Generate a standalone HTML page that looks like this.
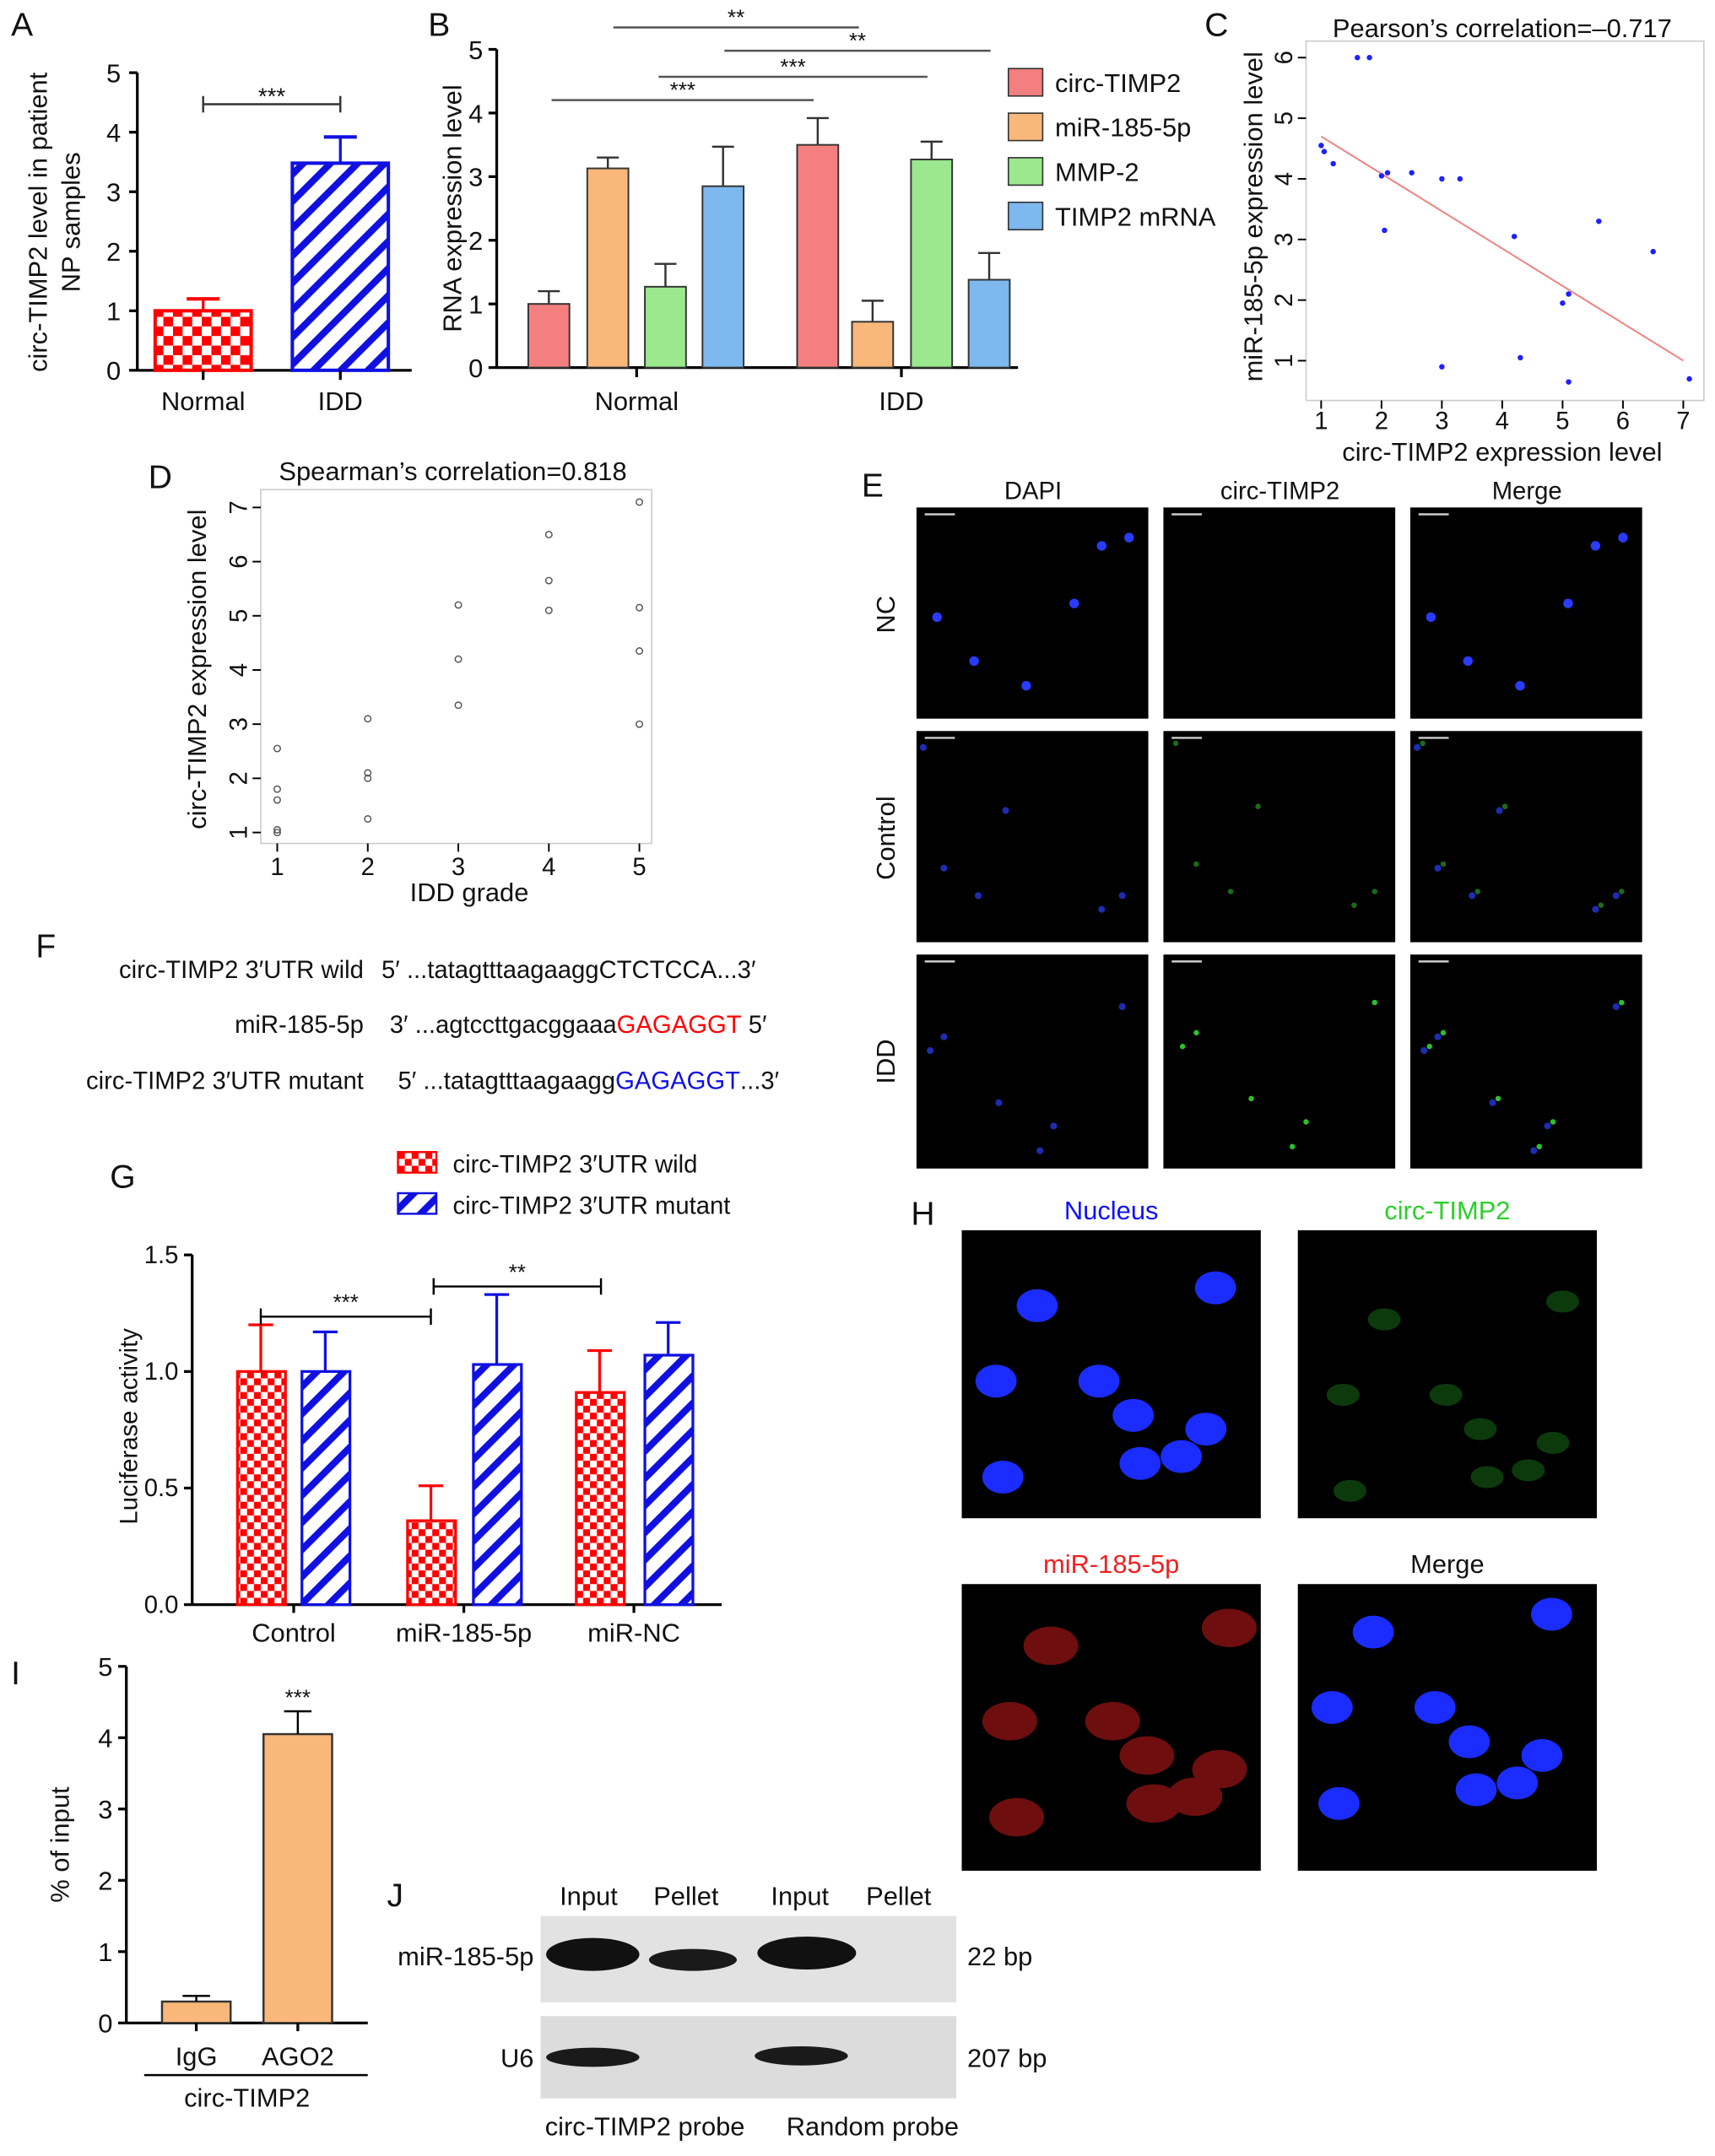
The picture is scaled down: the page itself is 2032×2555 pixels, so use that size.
<!DOCTYPE html>
<html><head><meta charset="utf-8">
<style>
html,body{margin:0;padding:0;background:#fff;}
svg{display:block;font-family:"Liberation Sans",Arial,sans-serif;}
</style></head>
<body>
<svg id="fig" width="2032" height="2555" viewBox="0 0 1250 1572" xmlns="http://www.w3.org/2000/svg">
<defs>
<pattern id="chk" width="14" height="14" patternUnits="userSpaceOnUse">
<rect width="14" height="14" fill="#fff"/><rect width="7" height="7" fill="#f00"/><rect x="7" y="7" width="7" height="7" fill="#f00"/>
</pattern>
<pattern id="chk2" width="10" height="10" patternUnits="userSpaceOnUse">
<rect width="10" height="10" fill="#fff"/><rect width="5" height="5" fill="#f00"/><rect x="5" y="5" width="5" height="5" fill="#f00"/>
</pattern>
<pattern id="str" width="14" height="14" patternUnits="userSpaceOnUse" patternTransform="rotate(45)">
<rect width="14" height="14" fill="#fff"/><rect width="5" height="14" fill="#1010e0"/>
</pattern>
</defs>
<g id="root"></g>
</svg>
<script>
// ---- data ----
const aCats=["Normal","IDD"];
const aVals=[1.0,3.48];
const aErr=[1.2,3.92];
const aTicks=[0,1,2,3,4,5];

const bGroups=["Normal","IDD"];
const bSeries=["circ-TIMP2","miR-185-5p","MMP-2","TIMP2 mRNA"];
const bNormal=[1.0,3.13,1.27,2.85];
const bNormalErr=[1.2,3.3,1.63,3.47];
const bIDD=[3.5,0.72,3.27,1.38];
const bIDDErr=[3.92,1.05,3.55,1.8];
const bTicks=[0,1,2,3,4,5];

const cX=[1.0,1.05,1.2,1.6,1.8,2.0,2.1,2.05,2.5,3.0,3.3,3.0,4.2,4.3,5.0,5.1,5.1,5.6,6.5,7.1];
const cY=[4.55,4.45,4.25,6.0,6.0,4.05,4.1,3.15,4.1,4.0,4.0,0.9,3.05,1.05,1.95,2.1,0.65,3.3,2.8,0.7];
const cFit=[[1,4.7],[7,1.0]];
const cXTicks=[1,2,3,4,5,6,7];
const cYTicks=[1,2,3,4,5,6];

const dX=[1,1,1,1,1,2,2,2,2,3,3,3,4,4,4,5,5,5,5];
const dY=[2.55,1.8,1.6,1.05,1.0,3.1,2.1,2.0,1.25,5.2,4.2,3.35,6.5,5.65,5.1,7.1,5.15,4.35,3.0];
const dXTicks=[1,2,3,4,5];
const dYTicks=[1,2,3,4,5,6,7];

const gCats=["Control","miR-185-5p","miR-NC"];
const gWild=[1.0,0.36,0.91];
const gWildErr=[1.2,0.51,1.09];
const gMut=[1.0,1.03,1.07];
const gMutErr=[1.17,1.33,1.21];
const gTicks=["0.0","0.5","1.0","1.5"];

const iCats=["IgG","AGO2"];
const iVals=[0.3,4.05];
const iErr=[0.38,4.37];
const iTicks=[0,1,2,3,4,5];

// ---- helpers ----
const NS="http://www.w3.org/2000/svg";
const root=document.getElementById('root');
function mk(tag,attrs,parent,txt){const e=document.createElementNS(NS,tag);for(const k in attrs)e.setAttribute(k,attrs[k]);if(txt!==undefined)e.textContent=txt;(parent||root).appendChild(e);return e;}
function grp(name){const g=mk('g',{});


return g;}
function line(p,x1,y1,x2,y2,w,c){return mk('line',{x1,y1,x2,y2,stroke:c||'#000','stroke-width':w||1.5},p);}
function text(p,x,y,s,sz,anchor,fill,extra){const t=mk('text',Object.assign({x,y,'font-size':sz||18,'text-anchor':anchor||'middle',fill:fill||'#111'},extra||{}),p,s);return t;}

// panel letters
[["A",8,26],["B",312,26],["C",878,26],["D",108,356],["E",628,362],["F",26,698],["G",80,866],["H",664,893],["I",8,1228],["J",282,1390]].forEach(l=>{
const t=text(root,l[1],l[2],l[0],24,'start','#111');


});

// ---- Panel A ----
(function(){
const g=grp('panel-a-chart');
const y0=270,ppu=43.4;const ys=v=>y0-v*ppu;
line(g,100,ys(5),100,y0,2);line(g,100,y0,300,y0,2);
aTicks.forEach(t=>{line(g,94,ys(t),100,ys(t),2);text(g,88,ys(t)+7,String(t),19,'end');});
const xs=[148,248];const fills=['url(#chk)','url(#str)'];const strokes=['#f00','#1010e0'];
aCats.forEach((c,i)=>{
 const r=mk('rect',{x:xs[i]-35,y:ys(aVals[i]),width:70,height:aVals[i]*ppu,fill:fills[i],stroke:strokes[i],'stroke-width':2.5},g);
 
 
 line(g,xs[i],ys(aVals[i]),xs[i],ys(aErr[i]),2,strokes[i]);line(g,xs[i]-12,ys(aErr[i]),xs[i]+12,ys(aErr[i]),2.5,strokes[i]);
 line(g,xs[i],y0,xs[i],y0+7,2);text(g,xs[i],y0+29,c,19);
});
line(g,148,76,248,76,1.5,'#333');line(g,148,70,148,82,1.5,'#333');line(g,248,70,248,82,1.5,'#333');
text(g,198,76,'***',17);
text(g,0,0,'circ-TIMP2 level in patient',19,'middle','#111',{transform:'translate(34,162) rotate(-90)'});
text(g,0,0,'NP samples',19,'middle','#111',{transform:'translate(58,162) rotate(-90)'});
})();

// ---- Panel B ----
(function(){
const g=grp('panel-b-chart');
const y0=268,ppu=46.4;const ys=v=>y0-v*ppu;
line(g,362,ys(5),362,y0,2);line(g,362,y0,742,y0,2);
bTicks.forEach(t=>{line(g,356,ys(t),362,ys(t),2);text(g,352,ys(t)+7,String(t),19,'end');});
const colors=['#f47f7f','#f9b77a','#9be88f','#7db8ee'];
const starts=[[385,428,470,512],[581,621,664,706]];
const vals=[bNormal,bIDD],errs=[bNormalErr,bIDDErr];
bGroups.forEach((gname,gi)=>{
 bSeries.forEach((s,si)=>{
  const x=starts[gi][si],v=vals[gi][si],e=errs[gi][si];
  const r=mk('rect',{x,y:ys(v),width:30,height:v*ppu,fill:colors[si],stroke:'#333','stroke-width':1.2},g);
  
  
  line(g,x+15,ys(v),x+15,ys(e),1.5,'#333');line(g,x+7,ys(e),x+23,ys(e),1.5,'#333');
 });
});
line(g,464,y0,464,y0+7,2);line(g,657,y0,657,y0+7,2);
text(g,464,y0+31,'Normal',19);text(g,657,y0+31,'IDD',19);
[[447,626,20,'**'],[528,722,37,'**'],[480,676,56,'***'],[402,593,73,'***']].forEach(s=>{line(g,s[0],s[2],s[1],s[2],1.5,'#555');text(g,(s[0]+s[1])/2,s[2]-2,s[3],16);});
text(g,0,0,'RNA expression level',19,'middle','#111',{transform:'translate(336,152) rotate(-90)'});
bSeries.forEach((s,i)=>{
 const le=grp('legend-entry-'+i);root.removeChild(le);g.appendChild(le);
 mk('rect',{x:735,y:50+i*32.5,width:25,height:20,fill:colors[i],stroke:'#333','stroke-width':1},le);
 text(le,769,67+i*32.5,s,19,'start');
});
})();

// ---- Panel C ----
(function(){
const g=grp('panel-c-scatter');
const xs=v=>963+(v-1)*44,ys=v=>263-(v-1)*44.2;
mk('rect',{x:952,y:30,width:290,height:262,fill:'none',stroke:'#ccc','stroke-width':1},g);
cXTicks.forEach(t=>{line(g,xs(t),292,xs(t),298,1.2);text(g,xs(t),313,String(t),18);});
cYTicks.forEach(t=>{line(g,946,ys(t),952,ys(t),1.2);text(g,0,0,String(t),18,'middle','#111',{transform:`translate(942,${ys(t)}) rotate(-90)`});});
line(g,xs(cFit[0][0]),ys(cFit[0][1]),xs(cFit[1][0]),ys(cFit[1][1]),1.2,'#f08080');
cX.forEach((x,i)=>{const c=mk('circle',{cx:xs(x),cy:ys(cY[i]),r:2,fill:'#2020ff'},g);

});
text(g,1095,27,'Pearson\u2019s correlation=\u20130.717',19);
text(g,1095,336,'circ-TIMP2 expression level',19);
text(g,0,0,'miR-185-5p expression level',19,'middle','#111',{transform:'translate(920,158) rotate(-90)'});
})();

// ---- Panel D ----
(function(){
const g=grp('panel-d-scatter');
const xs=v=>202+(v-1)*66,ys=v=>607-(v-1)*39.5;
mk('rect',{x:190,y:357,width:285,height:258,fill:'none',stroke:'#ccc','stroke-width':1},g);
dXTicks.forEach(t=>{line(g,xs(t),615,xs(t),621,1.2);text(g,xs(t),638,String(t),18);});
dYTicks.forEach(t=>{line(g,184,ys(t),190,ys(t),1.2);text(g,0,0,String(t),18,'middle','#111',{transform:`translate(180,${ys(t)}) rotate(-90)`});});
dX.forEach((x,i)=>{const c=mk('circle',{cx:xs(x),cy:ys(dY[i]),r:2.3,fill:'none',stroke:'#555','stroke-width':0.9},g);

});
text(g,330,350,'Spearman\u2019s correlation=0.818',19);
text(g,342,657,'IDD grade',19);
text(g,0,0,'circ-TIMP2 expression level',19,'middle','#111',{transform:'translate(150,488) rotate(-90)'});
})();

// ---- Panel E ----
(function(){
const g=grp('panel-e-images');
const cols=[668,848,1028],rows=[370,533,696],heads=['DAPI','circ-TIMP2','Merge'],rl=['NC','Control','IDD'];
heads.forEach((h,i)=>text(g,cols[i]+85,364,h,18));
rl.forEach((r,i)=>text(g,0,0,r,19,'middle','#111',{transform:`translate(652,${rows[i]+78}) rotate(-90)`}));
const dots=[[[155,22],[135,28],[115,70],[15,80],[42,112],[80,130]],[[5,12],[65,58],[20,100],[45,120],[135,130],[150,120]],[[10,70],[60,108],[90,143],[150,38],[100,125],[20,60]]];
rows.forEach((ry,ri)=>cols.forEach((cx,ci)=>{
 const im=mk('rect',{x:cx,y:ry,width:169,height:ri==2?156:154,fill:'#000'},g);
 
 
 line(g,cx+6,ry+5,cx+28,ry+5,1.5,'#ccc');
 dots[ri].forEach(d=>{
  if(ci!=1) mk('circle',{cx:cx+d[0],cy:ry+d[1],r:ri==0?3.5:2.5,fill:ri==0?'#2a3cff':'#1e2cb0'},g);
  if(ci>=1&&ri>0) mk('circle',{cx:cx+d[0]+4,cy:ry+d[1]-3,r:2,fill:ri==2?'#2cc02c':'#1c6a1c'},g);
 });
}));
})();

// ---- Panel F ----
(function(){
const g=grp('panel-f-sequences');
text(g,265,713,'circ-TIMP2 3\u2032UTR wild',18,'end');
text(g,278,713,'5\u2032 ...tatagtttaagaaggCTCTCCA...3\u2032',18,'start');
text(g,265,753,'miR-185-5p',18,'end');
const t2=mk('text',{x:284,y:753,'font-size':18,fill:'#111'},g);
mk('tspan',{},t2,'3\u2032 ...agtccttgacggaaa');mk('tspan',{fill:'#f00'},t2,'GAGAGGT');mk('tspan',{},t2,' 5\u2032');
text(g,265,794,'circ-TIMP2 3\u2032UTR mutant',18,'end');
const t3=mk('text',{x:290,y:794,'font-size':18,fill:'#111'},g);
mk('tspan',{},t3,'5\u2032 ...tatagtttaagaagg');mk('tspan',{fill:'#1010e0'},t3,'GAGAGGT');mk('tspan',{},t3,'...3\u2032');
})();

// ---- Panel G ----
(function(){
const g=grp('panel-g-chart');
const y0=1170,ppu=170;const ys=v=>y0-v*ppu;
line(g,140,ys(1.5),140,y0,2);line(g,140,y0,526,y0,2);
gTicks.forEach(t=>{const v=parseFloat(t);line(g,134,ys(v),140,ys(v),2);text(g,130,ys(v)+6,t,18,'end');});
const wx=[173,297,420],mx=[220,345,470],cx=[214,338,462];
gCats.forEach((c,i)=>{
 const r1=mk('rect',{x:wx[i],y:ys(gWild[i]),width:35,height:gWild[i]*ppu,fill:'url(#chk2)',stroke:'#f00','stroke-width':2},g);
 
 
 line(g,wx[i]+17,ys(gWild[i]),wx[i]+17,ys(gWildErr[i]),2,'#f00');line(g,wx[i]+8,ys(gWildErr[i]),wx[i]+26,ys(gWildErr[i]),2,'#f00');
 const r2=mk('rect',{x:mx[i],y:ys(gMut[i]),width:35,height:gMut[i]*ppu,fill:'url(#str)',stroke:'#1010e0','stroke-width':2},g);
 
 
 line(g,mx[i]+17,ys(gMut[i]),mx[i]+17,ys(gMutErr[i]),2,'#1010e0');line(g,mx[i]+8,ys(gMutErr[i]),mx[i]+26,ys(gMutErr[i]),2,'#1010e0');
 line(g,cx[i],y0,cx[i],y0+6,2);text(g,cx[i],y0+27,c,19);
});
[[190,314,960,'***'],[316,438,938,'**']].forEach(s=>{line(g,s[0],s[2],s[1],s[2],1.5);line(g,s[0],s[2]-6,s[0],s[2]+6,1.5);line(g,s[1],s[2]-6,s[1],s[2]+6,1.5);text(g,(s[0]+s[1])/2,s[2]-5,s[3],16);});
text(g,0,0,'Luciferase activity',18,'middle','#111',{transform:'translate(100,1040) rotate(-90)'});
mk('rect',{x:290,y:840,width:28,height:15,fill:'url(#chk2)',stroke:'#f00','stroke-width':1.5},g);
text(g,330,855,'circ-TIMP2 3\u2032UTR wild',18,'start');
mk('rect',{x:290,y:870,width:28,height:15,fill:'url(#str)',stroke:'#1010e0','stroke-width':1.5},g);
text(g,330,885,'circ-TIMP2 3\u2032UTR mutant',18,'start');
})();

// ---- Panel H ----
(function(){
const g=grp('panel-h-images');
const ims=[[701,897,'Nucleus','#1010ff'],[946,897,'circ-TIMP2','#2ad02a'],[701,1155,'miR-185-5p','#f02020'],[946,1155,'Merge','#111']];
const nuc=[[25,110],[55,55],[100,110],[185,42],[125,135],[130,170],[160,165],[178,145],[30,180]];
ims.forEach((m,i)=>{
 const r=mk('rect',{x:m[0],y:m[1],width:218,height:i<2?210:209,fill:'#000'},g);
 
 
 text(g,m[0]+109,m[1]-8,m[2],19,'middle',m[3]);
 if(i==0||i==3) nuc.forEach(n=>mk('ellipse',{cx:m[0]+n[0],cy:m[1]+n[1]-(i==3?20:0),rx:15,ry:12,fill:'#1a2cff'},g));
 if(i==1) nuc.forEach(n=>mk('ellipse',{cx:m[0]+n[0]+8,cy:m[1]+n[1]+10,rx:12,ry:8,fill:'#0c3a0c'},g));
 if(i==2) nuc.forEach(n=>mk('ellipse',{cx:m[0]+n[0]+10,cy:m[1]+n[1]-10,rx:20,ry:14,fill:'#6e0e0e'},g));
});
})();

// ---- Panel I ----
(function(){
const g=grp('panel-i-chart');
const y0=1475,ppu=52;const ys=v=>y0-v*ppu;
line(g,92,ys(5),92,y0,2);line(g,92,y0,268,y0,2);
iTicks.forEach(t=>{line(g,86,ys(t),92,ys(t),2);text(g,82,ys(t)+7,String(t),19,'end');});
const xs=[143,217];
iCats.forEach((c,i)=>{
 const r=mk('rect',{x:xs[i]-25,y:ys(iVals[i]),width:50,height:iVals[i]*ppu,fill:'#f9b77a',stroke:'#333','stroke-width':1.5},g);
 
 
 line(g,xs[i],ys(iVals[i]),xs[i],ys(iErr[i]),1.5);line(g,xs[i]-10,ys(iErr[i]),xs[i]+10,ys(iErr[i]),1.5);
 line(g,xs[i],y0,xs[i],y0+6,2);text(g,xs[i],y0+31,c,19);
});
text(g,217,1243,'***',16);
line(g,105,1513,268,1513,1.5);text(g,180,1536,'circ-TIMP2',19);
text(g,0,0,'% of input',19,'middle','#111',{transform:'translate(50,1345) rotate(-90)'});
})();

// ---- Panel J ----
(function(){
const g=grp('panel-j-blot');
[['Input',429],['Pellet',500],['Input',583],['Pellet',655]].forEach(h=>text(g,h[1],1389,h[0],19));
const b1=mk('rect',{x:394,y:1397,width:303,height:63,fill:'#e2e2e2'},g);


const b2=mk('rect',{x:394,y:1470,width:303,height:60,fill:'#dcdcdc'},g);


mk('ellipse',{cx:432,cy:1425,rx:34,ry:12,fill:'#111'},g);
mk('ellipse',{cx:505,cy:1429,rx:32,ry:8,fill:'#1a1a1a'},g);
mk('ellipse',{cx:588,cy:1424,rx:36,ry:12,fill:'#111'},g);
mk('ellipse',{cx:432,cy:1500,rx:34,ry:7,fill:'#1a1a1a'},g);
mk('ellipse',{cx:584,cy:1499,rx:34,ry:7,fill:'#1a1a1a'},g);
text(g,389,1433,'miR-185-5p',19,'end');text(g,389,1507,'U6',19,'end');
text(g,705,1433,'22 bp',19,'start');text(g,705,1507,'207 bp',19,'start');
text(g,470,1557,'circ-TIMP2 probe',19);text(g,636,1557,'Random probe',19);
})();
</script>
</body></html>
